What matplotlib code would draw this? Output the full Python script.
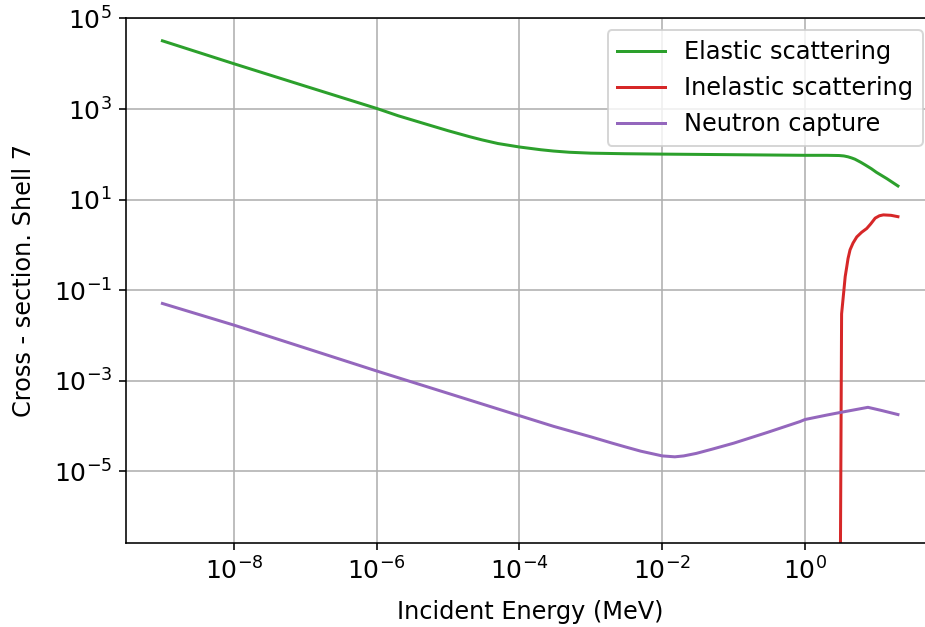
import matplotlib
matplotlib.use("Agg")
import matplotlib.pyplot as plt
import numpy as np

# Elastic scattering
E_el = [1e-9, 1e-8, 1e-7, 1e-6, 2e-6, 5e-6, 1e-5, 2e-5, 3e-5, 5e-5, 1e-4, 2e-4,
        3e-4, 5e-4, 1e-3, 3e-3, 1e-2, 1e-1, 1.0, 2.0, 3.0, 3.5, 4.0, 4.5, 5.0,
        6.0, 7.0, 8.5, 10.0, 14.0, 20.0]
s_el = [3.2e4, 1.0e4, 3.2e3, 1.03e3, 710, 460, 332, 245, 208, 173, 145, 126,
        118, 111, 106, 103, 101, 98, 95, 95, 94, 92, 88, 83, 78,
        67, 58, 48, 40, 29, 20]

# Inelastic scattering
E_in = [3.08, 3.25, 3.5, 3.65, 3.84, 4.0, 4.27, 4.7, 5.3, 6.2, 7.3, 8.3, 9.6,
        11.0, 12.5, 16.0, 20.0]
s_in = [1e-9, 0.03, 0.1, 0.2, 0.33, 0.5, 0.78, 1.1, 1.5, 1.9, 2.3, 2.9, 3.9,
        4.4, 4.6, 4.5, 4.2]

# Neutron capture
E_nc = [1e-9, 1e-8, 1e-7, 1e-6, 1e-5, 1e-4, 3e-4, 1e-3, 2e-3, 3e-3, 5e-3, 1e-2,
        1.5e-2, 2e-2, 3e-2, 5e-2, 1e-1, 3e-1, 0.85, 1.0, 2.0, 3.1, 5.0, 7.6,
        12.0, 20.0]
s_nc = [0.051, 0.017, 5.3e-3, 1.65e-3, 5.3e-4, 1.7e-4, 9.9e-5, 5.8e-5, 4.2e-5,
        3.5e-5, 2.8e-5, 2.2e-5, 2.1e-5, 2.2e-5, 2.5e-5, 3.1e-5, 4.2e-5, 7.3e-5,
        1.26e-4, 1.4e-4, 1.75e-4, 2.0e-4, 2.3e-4, 2.6e-4, 2.2e-4, 1.8e-4]

xticks = [1e-8, 1e-6, 1e-4, 1e-2, 1e0]
yticks = [1e-5, 1e-3, 1e-1, 1e1, 1e3, 1e5]

plt.rcParams["font.size"] = 12

fig = plt.figure(figsize=(925 / 144, 627 / 144), dpi=144)
ax = fig.add_axes([126 / 925, (627 - 543) / 627, (935 - 126) / 925, (543 - 18.4) / 627])

ax.plot(E_el, s_el, color="tab:green", label="Elastic scattering")
ax.plot(E_in, s_in, color="tab:red", label="Inelastic scattering")
ax.plot(E_nc, s_nc, color="tab:purple", label="Neutron capture")

ax.set_xscale("log")
ax.set_yscale("log")
ax.set_xlim(10 ** -9.51, 10 ** 1.82)
ax.set_ylim(10 ** -6.58, 1e5)
ax.set_xticks(xticks)
ax.set_yticks(yticks)
ax.minorticks_off()
ax.tick_params(axis="both", labelsize=12.5)
ax.grid(True)

ax.set_xlabel("Incident Energy (MeV)", labelpad=8)
ax.set_ylabel("Cross - section. Shell 7", labelpad=9)
ax.legend(loc="upper right")

fig.savefig("out.png", dpi=144)
